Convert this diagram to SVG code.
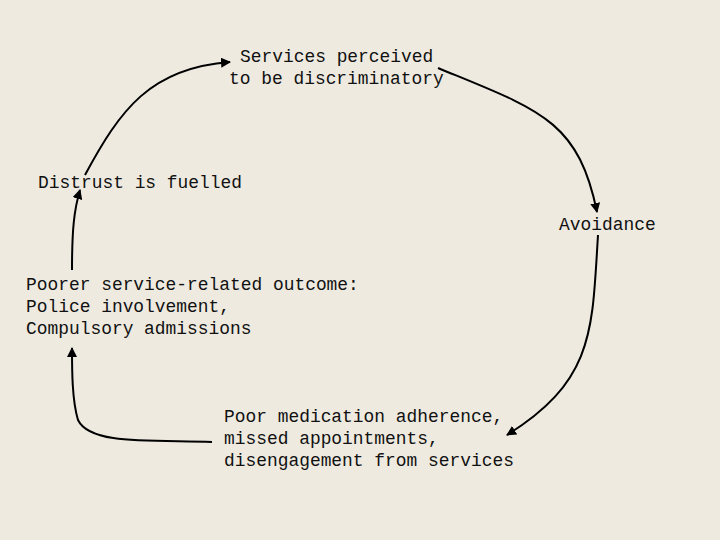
<svg xmlns="http://www.w3.org/2000/svg" width="720" height="540" viewBox="0 0 720 540">
<style>
text{font-family:"Liberation Mono","Courier New",monospace;font-size:17.9px;fill:#111}
.c{fill:none;stroke:#000;stroke-width:2;marker-end:url(#a)}
</style>
<defs><marker id="a" viewBox="0 0 10 10" refX="9" refY="5" markerWidth="5" markerHeight="5" orient="auto" markerUnits="strokeWidth"><path d="M0,0L10,5L0,10z" fill="#000"/></marker></defs>
<rect width="720" height="540" fill="#EEEAE0"/>
<g id="connectors">
<path class="c" d="M85,175 C120,110 150,68 230,62"/>
<path class="c" d="M438,68 C540,110 578,120 597,212"/>
<path class="c" d="M598,235 C592,330 595,380 507,435"/>
<path class="c" d="M212,442 C150,440 90,445 78,420 C72,400 72,370 72,348"/>
<path class="c" d="M72,270 C72,230 74,210 80,190"/>
</g>
<g id="n1"><text x="240" y="62">Services perceived</text><text x="229" y="84">to be discriminatory</text></g>
<g id="n2"><text x="559" y="230">Avoidance</text></g>
<g id="n3"><text x="224" y="422">Poor medication adherence,</text><text x="224" y="444">missed appointments,</text><text x="224" y="466">disengagement from services</text></g>
<g id="n4"><text x="26" y="290">Poorer service-related outcome:</text><text x="26" y="312">Police involvement,</text><text x="26" y="334">Compulsory admissions</text></g>
<g id="n5"><text x="38" y="188">Distrust is fuelled</text></g>
</svg>
